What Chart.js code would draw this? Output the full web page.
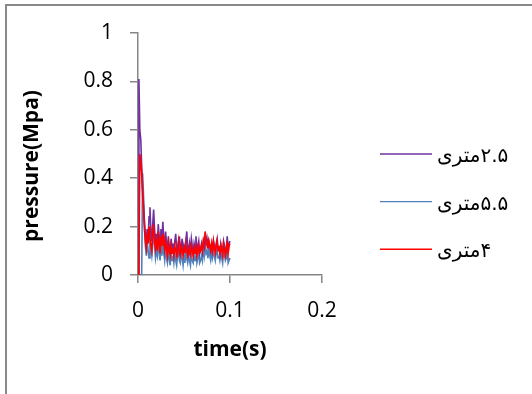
<!DOCTYPE html>
<html><head><meta charset="utf-8">
<script src="https://cdn.jsdelivr.net/npm/chart.js@4/dist/chart.umd.min.js"></script>
<style>
html,body{margin:0;padding:0;background:#fff;overflow:hidden;width:532px;height:394px}
#frame{position:absolute;left:5px;top:4px;width:600px;height:600px;border:2px solid #898989;box-sizing:border-box}
#wrap{position:absolute;left:0;top:0;width:532px;height:394px}
</style></head><body>
<div id="frame"></div>
<div id="wrap"><canvas id="c" width="532" height="394"></canvas></div>
<script>
const seriesNames = ['۲.۵متری', '۵.۵متری', '۴متری'];
const xTickLabels = ['0', '0.1', '0.2'];
const yTickLabels = ['0', '0.2', '0.4', '0.6', '0.8', '1'];
const xTitle = 'time(s)';
const yTitle = 'pressure(Mpa)';
const times = [
 0,0.001,0.002,0.003,0.004,0.005,0.006,0.007,0.008,0.009,
 0.010,0.011,0.012,0.013,0.014,0.015,0.016,0.017,0.018,0.019,
 0.020,0.021,0.022,0.023,0.024,0.025,0.026,0.027,0.028,0.029,
 0.030,0.031,0.032,0.033,0.034,0.035,0.036,0.037,0.038,0.039,
 0.040,0.041,0.042,0.043,0.044,0.045,0.046,0.047,0.048,0.049,
 0.050,0.051,0.052,0.053,0.054,0.055,0.056,0.057,0.058,0.059,
 0.060,0.061,0.062,0.063,0.064,0.065,0.066,0.067,0.068,0.069,
 0.070,0.071,0.072,0.073,0.074,0.075,0.076,0.077,0.078,0.079,
 0.080,0.081,0.082,0.083,0.084,0.085,0.086,0.087,0.088,0.089,
 0.090,0.091,0.092,0.093,0.094,0.095,0.096,0.097,0.098,0.099,
 0.100];
const pressure25 = [
 0,0.81,0.60,0.56,0.45,0.36,0.29,0.22,0.17,0.13,
 0.19,0.15,0.24,0.28,0.18,0.14,0.21,0.27,0.19,0.13,
 0.17,0.12,0.21,0.16,0.11,0.19,0.14,0.22,0.15,0.12,
 0.18,0.13,0.10,0.16,0.12,0.09,0.15,0.11,0.13,0.10,
 0.14,0.17,0.11,0.09,0.13,0.16,0.10,0.12,0.15,0.09,
 0.12,0.10,0.14,0.18,0.11,0.09,0.13,0.10,0.15,0.12,
 0.09,0.13,0.11,0.16,0.10,0.12,0.14,0.09,0.11,0.13,
 0.10,0.14,0.12,0.17,0.13,0.15,0.11,0.14,0.12,0.10,
 0.13,0.11,0.14,0.12,0.10,0.13,0.15,0.11,0.12,0.09,
 0.13,0.11,0.10,0.14,0.12,0.09,0.11,0.16,0.10,0.13,
 0.14];
const pressure55 = [
 0,0,0,0,0,0.42,0.33,0.21,0.12,0.08,
 0.14,0.10,0.07,0.18,0.11,0.08,0.13,0.20,0.12,0.07,
 0.10,0.08,0.15,0.09,0.06,0.12,0.08,0.14,0.09,0.06,
 0.11,0.07,0.05,0.09,0.07,0.04,0.10,0.06,0.08,0.05,
 0.09,0.06,0.04,0.08,0.11,0.06,0.05,0.09,0.07,0.04,
 0.08,0.05,0.10,0.07,0.05,0.08,0.06,0.04,0.09,0.06,
 0.05,0.08,0.06,0.10,0.05,0.07,0.09,0.05,0.06,0.08,
 0.06,0.11,0.08,0.13,0.09,0.10,0.07,0.11,0.08,0.06,
 0.09,0.07,0.10,0.08,0.06,0.09,0.11,0.07,0.08,0.06,
 0.09,0.07,0.05,0.10,0.08,0.06,0.07,0.11,0.05,0.06,
 0.07];
const pressure4 = [
 0,0.03,0.50,0.47,0.42,0.33,0.27,0.19,0.14,0.11,
 0.16,0.13,0.20,0.15,0.12,0.10,0.17,0.21,0.14,0.11,
 0.15,0.10,0.18,0.13,0.09,0.16,0.12,0.17,0.13,0.10,
 0.14,0.11,0.08,0.13,0.10,0.08,0.12,0.09,0.11,0.08,
 0.12,0.10,0.08,0.11,0.14,0.09,0.08,0.12,0.10,0.08,
 0.11,0.09,0.13,0.10,0.08,0.11,0.09,0.08,0.12,0.10,
 0.08,0.11,0.09,0.13,0.08,0.10,0.12,0.09,0.10,0.12,
 0.10,0.14,0.12,0.18,0.15,0.13,0.11,0.14,0.12,0.10,
 0.13,0.10,0.14,0.11,0.09,0.12,0.14,0.10,0.12,0.09,
 0.12,0.10,0.08,0.13,0.11,0.08,0.10,0.14,0.09,0.12,
 0.13];

const toXY = vals => times.map((t, i) => ({x: t, y: vals[i]}));
const axisColor = '#868686';

const sidePlugin = {
  id: 'sideLegend',
  afterDraw(chart) {
    const ctx = chart.ctx;
    ctx.save();
    // y axis title
    ctx.translate(32, 166);
    ctx.rotate(-Math.PI / 2);
    ctx.fillStyle = '#000';
    ctx.font = 'bold 21px "Open Sans"';
    ctx.textAlign = 'center';
    ctx.textBaseline = 'middle';
    ctx.fillText(yTitle, 0, 0);
    ctx.restore();
    ctx.save();
    chart.data.datasets.forEach((ds, i) => {
      const y = 154 + i * 47.6;
      ctx.strokeStyle = ds.borderColor;
      ctx.lineWidth = 1.4;
      ctx.beginPath();
      ctx.moveTo(380, y);
      ctx.lineTo(432, y);
      ctx.stroke();
      ctx.fillStyle = '#000';
      ctx.font = '20px "DejaVu Sans"';
      ctx.direction = 'rtl';
      ctx.textAlign = 'left';
      ctx.textBaseline = 'middle';
      ctx.fillText(ds.label, 437, y + 3);
    });
    ctx.restore();
  }
};

new Chart(document.getElementById('c'), {
  type: 'line',
  data: {
    datasets: [
      {label: seriesNames[0], data: toXY(pressure25), borderColor: '#7030A0', order: 2},
      {label: seriesNames[1], data: toXY(pressure55), borderColor: '#4F81BD', order: 3},
      {label: seriesNames[2], data: toXY(pressure4), borderColor: '#FF0000', order: 1}
    ].map(d => Object.assign(d, {borderWidth: 1.6, pointRadius: 0, tension: 0, fill: false}))
  },
  options: {
    responsive: false,
    animation: false,
    devicePixelRatio: 1,
    layout: {padding: {left: 6, top: 33, right: 210, bottom: 30}},
    plugins: {legend: {display: false}, tooltip: {enabled: false}},
    scales: {
      x: {
        type: 'linear', min: 0, max: 0.2,
        afterFit: s => { s.height = 89; },
        afterBuildTicks: s => { s.ticks = xTickLabels.map((l, i) => ({value: i * 0.1})); },
        ticks: {callback: (v, i) => xTickLabels[i], color: '#000', font: {family: 'Open Sans', size: 21}, padding: 15, maxRotation: 0},
        grid: {drawOnChartArea: false, drawTicks: true, tickLength: 8, color: axisColor, lineWidth: 1.5},
        border: {display: true, color: axisColor, width: 1.5},
        title: {display: true, text: xTitle, color: '#000', font: {family: 'Open Sans', size: 21, weight: 'bold'}, padding: {top: 0, bottom: 1}}
      },
      y: {
        type: 'linear', min: 0, max: 1,
        afterFit: s => { s.width = 132; },
        afterBuildTicks: s => { s.ticks = yTickLabels.map((l, i) => ({value: i * 0.2})); },
        ticks: {callback: (v, i) => yTickLabels[i], color: '#000', font: {family: 'Open Sans', size: 21}, padding: 17},
        grid: {drawOnChartArea: false, drawTicks: true, tickLength: 8, color: axisColor, lineWidth: 1.5},
        border: {display: true, color: axisColor, width: 1.5},
        title: {display: false}
      }
    }
  },
  plugins: [sidePlugin]
});
</script>
</body></html>
